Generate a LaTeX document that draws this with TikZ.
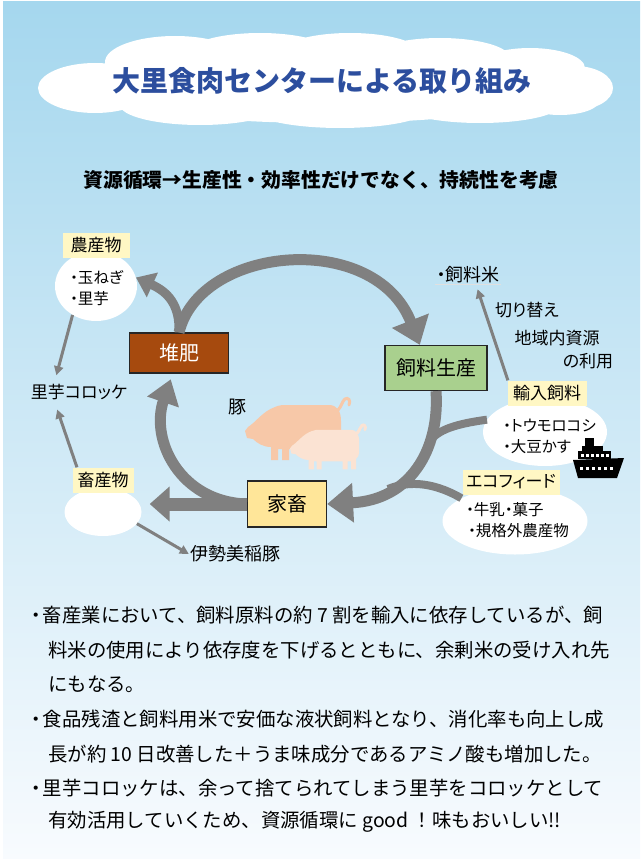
\documentclass[tikz,border=0pt]{standalone}
\usepackage{fontspec}
\setmainfont{Noto Sans CJK JP}
\newfontfamily\labfont[RawFeature=+palt]{Noto Sans CJK JP}
\usetikzlibrary{arrows.meta,shapes.geometric}

\definecolor{skytop}{RGB}{165,215,238}
\definecolor{skymid}{RGB}{203,230,244}
\definecolor{skybot}{RGB}{248,251,254}
\definecolor{titleblue}{RGB}{44,78,158}
\definecolor{flowgray}{RGB}{128,128,128}
\definecolor{notepaper}{RGB}{255,247,196}
\definecolor{compostbrown}{RGB}{166,74,14}
\definecolor{feedgreen}{RGB}{169,208,142}
\definecolor{stockyellow}{RGB}{255,230,153}
\definecolor{pigdark}{RGB}{247,200,168}
\definecolor{piglight}{RGB}{251,227,211}

\newcommand\dotmark{\makebox[0.5em][c]{・}}
\newcommand\bigdot{\makebox[0.65em][c]{・}}

\tikzset{
  bubble/.style={ellipse, fill=white, inner sep=0pt},
  tag/.style={fill=notepaper, inner sep=0pt, minimum height=25pt,
    font=\labfont\fontsize{17}{20}\selectfont},
  stage/.style={draw=black!85, line width=1.2pt, inner sep=0pt,
    font=\labfont\fontsize{20}{24}\selectfont},
  word/.style={inner sep=1pt, font=\labfont\fontsize{17}{20}\selectfont},
  item/.style={inner sep=0pt, align=left, anchor=west,
    font=\labfont\fontsize{15.5}{21}\selectfont},
  note/.style={inner sep=0pt, anchor=west, font=\fontsize{19.4}{22}\selectfont},
  flow/.style={draw=flowgray, line width=11pt, -{Triangle[width=38pt,length=26pt]}},
  feeder/.style={draw=flowgray, line width=8pt},
  hint/.style={draw=flowgray, line width=3pt, -{Triangle[width=9pt,length=9pt]}},
  pics/pig/.style={code={
    \fill[#1] (0,34) -- (3,30) .. controls (10,26) and (18,14) .. (30,10)
      .. controls (34,8) and (38,8) .. (42,8) -- (84,8)
      .. controls (92,8) and (96,14) .. (96,24) -- (96,40)
      .. controls (96,44) and (94,46) .. (92,48) -- (92,63) -- (85,63) -- (85,52)
      -- (80,52) -- (80,63) -- (73,63) -- (73,52) -- (44,52) -- (44,63)
      -- (37,63) -- (37,52) -- (33,52) -- (33,63) -- (26,63) -- (26,50)
      .. controls (18,50) and (12,46) .. (8,42) -- (2,41) -- cycle;
    \draw[#1, line width=3pt, line cap=round] (93,13) .. controls (97,9) and (97,4) .. (100,2)
      .. controls (103,0) and (106,3) .. (104,8);
  }},
}

\begin{document}
\begin{tikzpicture}[x=1pt,y=-1pt]
\useasboundingbox (0,0) rectangle (640,859);
\fill[white] (0,0) rectangle (640,859);
\shade[top color=skytop, middle color=skymid, bottom color=skybot] (3,2) rectangle (640,859);

% cloud behind the title
\fill[white] (325,85) ellipse [x radius=245, y radius=38]
  (95,88) ellipse [x radius=57, y radius=25]
  (175,62) ellipse [x radius=70, y radius=26]
  (260,55) ellipse [x radius=75, y radius=22]
  (350,53) ellipse [x radius=70, y radius=20]
  (440,58) ellipse [x radius=70, y radius=20]
  (530,68) ellipse [x radius=55, y radius=20]
  (575,88) ellipse [x radius=38, y radius=22]
  (200,105) ellipse [x radius=80, y radius=20]
  (340,108) ellipse [x radius=90, y radius=20]
  (480,105) ellipse [x radius=80, y radius=18]
  (560,100) ellipse [x radius=40, y radius=15];

\node[font=\bfseries\fontsize{28}{32}\selectfont, text=titleblue] (title) at (322,81) {大里食肉センターによる取り組み};
\node[font=\bfseries\fontsize{19.8}{22}\selectfont] (motto) at (321,180) {資源循環→生産性・効率性だけでなく、持続性を考慮};

% bubbles
\node[bubble, minimum width=82pt, minimum height=70pt] (farm) at (96,286) {};
\node[bubble, minimum width=77pt, minimum height=48pt] (prods) at (103,512) {};
\node[bubble, minimum width=124pt, minimum height=68pt] (import) at (545,432) {};
\node[bubble, minimum width=145pt, minimum height=67pt] (eco) at (515,521) {};

\node[tag, minimum width=67pt] (farmtag) at (96,245) {農産物};
\node[tag, minimum width=61pt] (prodtag) at (103,480) {畜産物};
\node[tag, minimum width=79pt] (imptag) at (547,393) {輸入飼料};
\node[tag, minimum width=97pt] (ecotag) at (511,482) {エコフィード};

\node[item] (farmlist) at (70,288) {\dotmark 玉ねぎ\\\dotmark 里芋};
\node[item] (implist) at (503,436) {\dotmark トウモロコシ\\\dotmark 大豆かす};
\node[item] (ecolist) at (466,520) {\dotmark 牛乳\dotmark 菓子\\\hspace{2pt}\dotmark 規格外農産物};

% the three stages
\node[stage, fill=compostbrown, text=white, minimum width=99pt, minimum height=40pt] (compost) at (179,353) {堆肥};
\node[stage, fill=feedgreen, minimum width=102pt, minimum height=45pt] (feed) at (436,368) {飼料生産};
\node[stage, fill=stockyellow, minimum width=79pt, minimum height=46pt] (stock) at (287,504) {家畜};

\node[word] (croquette) at (79,392) {里芋コロッケ};
\node[word, font=\labfont\fontsize{18}{20}\selectfont] (ise) at (235,554) {伊勢美稲豚};
\node[word, font=\labfont\fontsize{18}{20}\selectfont] (pigword) at (237,407) {豚};
\node[word, font=\labfont\fontsize{18}{20}\selectfont] (rice) at (468,275) {\dotmark 飼料米};
\node[word] (switch) at (527,310) {切り替え};
\node[word] (local) at (557,338) {地域内資源};
\node[word] (use) at (588,361) {の利用};
\draw[black!12, line width=1pt] (rice.south west) -- (rice.south east);

% pigs
\pic at (245,397) {pig=pigdark};
\pic[scale=0.72] at (290,424) {pig=piglight};

% ship
\fill (585,438) rectangle (594,446);
\fill (582,446) rectangle (603,451);
\fill (578,451) rectangle (611,459);
\foreach \x in {581,586,...,606} \fill[white] (\x,454) rectangle ++(2.5,2.5);
\fill (573,460) -- (624,458) -- (617,478) -- (578,478) -- cycle;
\foreach \x in {580,586,...,610} \fill[white] (\x,467) rectangle ++(3,3);

% notes
\node[note] (note1) at (30,615) {\bigdot 畜産業において、飼料原料の約 7 割を輸入に依存しているが、飼};
\node[note] (note2) at (48,650) {料米の使用により依存度を下げるとともに、余剰米の受け入れ先};
\node[note] (note3) at (48,684) {にもなる。};
\node[note] (note4) at (30,719) {\bigdot 食品残渣と飼料用米で安価な液状飼料となり、消化率も向上し成};
\node[note] (note5) at (48,754) {長が約 10 日改善した＋うま味成分であるアミノ酸も増加した。};
\node[note] (note6) at (30,788) {\bigdot 里芋コロッケは、余って捨てられてしまう里芋をコロッケとして};
\node[note] (note7) at (48,822) {有効活用していくため、資源循環に good ！味もおいしい!!};

% cycle arrows
\coordinate (join1) at (430,441);
\coordinate (join2) at (388,489);
\draw[flow] (compost.north) .. controls (200,245) and (375,230) .. (feed.125);
\draw[flow, line width=9pt, -{Triangle[width=26pt,length=18pt]}] (compost.north) .. controls (180,305) and (168,292) .. (farm.12);
\draw[flow] (feed.south) .. controls (440,450) and (410,500) .. (stock.east);
\draw[feeder] (import.168) .. controls (455,424) and (438,430) .. (join1);
\draw[feeder] (eco.157) .. controls (430,480) and (405,482) .. (join2);
\draw[flow, line width=13pt, -{Triangle[width=34pt,length=20pt]}, shorten >=8pt] (stock.west) -- (stock.west -| prods.east);
\draw[flow, -{Triangle[width=32pt,length=24pt]}, shorten >=6pt] (stock.west) .. controls (180,502) and (150,440) .. (compost.253);

\draw[hint, shorten >=8pt] (farm.231) -- (croquette.160);
\draw[hint, shorten >=9pt] (prodtag.154) -- (croquette.200);
\draw[hint] (prods.341) -- (ise.west);
\draw[hint, shorten >=5pt] (imptag.162) -- (rice.-50);
\end{tikzpicture}
\end{document}
